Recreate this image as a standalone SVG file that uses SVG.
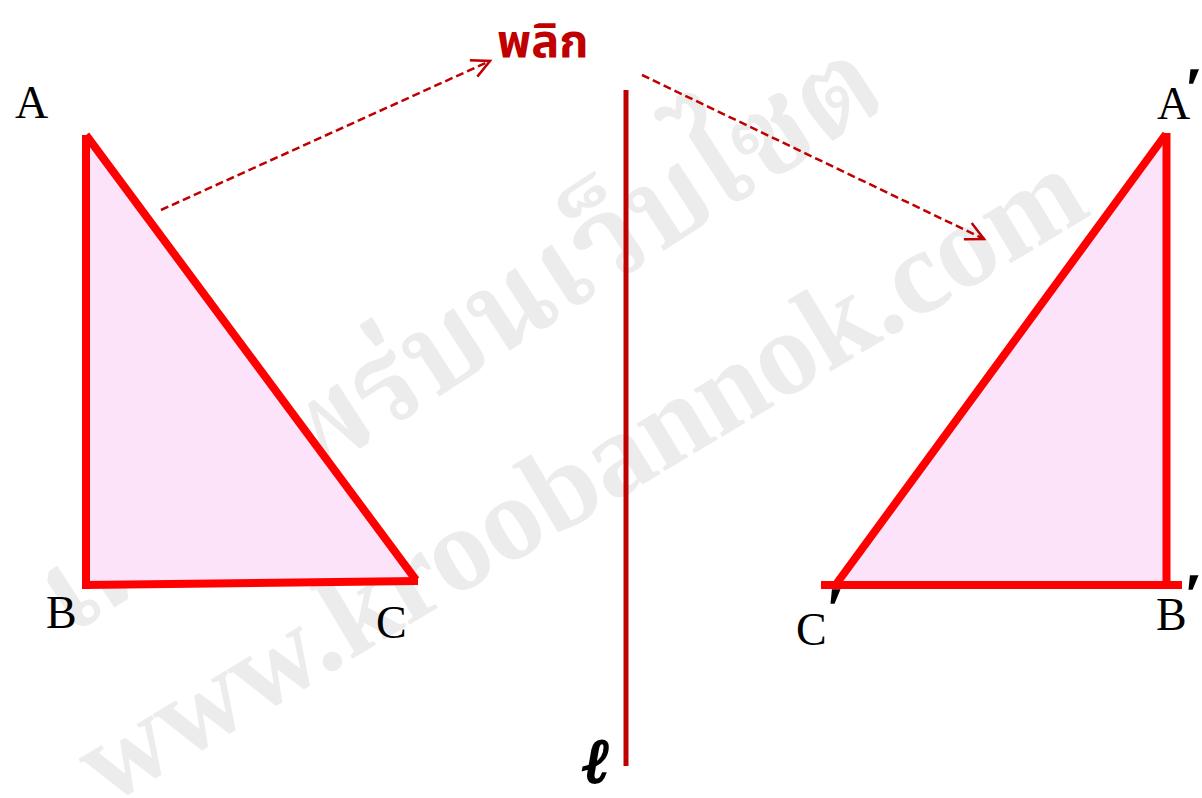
<svg xmlns="http://www.w3.org/2000/svg" width="1202" height="798" viewBox="0 0 1202 798">
<defs>
<style>
.wm{font-family:"Liberation Serif","Noto Serif Thai","Noto Sans Thai","DejaVu Serif",serif;font-weight:bold;fill:#ececec}
.tri{fill:#fde3f9;stroke:none}
.edge{stroke:#ff0000;stroke-width:8;fill:none}
.lbl{font-family:"Liberation Serif","Times New Roman",serif;font-size:46px;fill:#000}
.prime{font-weight:bold;font-size:54px;stroke:#000;stroke-width:1.5}
.dash{stroke:#c00000;stroke-width:2.5;stroke-dasharray:8 4;fill:none}
.ell{font-family:"DejaVu Serif",serif;font-weight:bold;font-style:italic;font-size:62px;fill:#000;stroke:#000;stroke-width:2.5}
.flip{font-family:"Noto Sans Thai","Noto Sans","DejaVu Sans",sans-serif;font-weight:bold;font-size:47px;fill:#c00000}
</style>
<marker id="arr" markerUnits="userSpaceOnUse" orient="auto" refX="0" refY="0" markerWidth="30" markerHeight="30" viewBox="-25 -15 30 30" overflow="visible">
<path d="M-18,-9 L0,0 L-18,9" fill="none" stroke="#c00000" stroke-width="2.5"/>
</marker>
</defs>
<rect width="1202" height="798" fill="#ffffff"/>
<g id="watermark">
<text class="wm" font-size="120" transform="translate(480,370) rotate(-33)" text-anchor="middle">เผยแพร่บนเว็บไซต</text>
<text class="wm" font-size="120" transform="translate(600,510) rotate(-31)" text-anchor="middle">www.kroobannok.com</text>
</g>
<g id="triangle-ABC">
<polygon class="tri" points="86,135 86,585 418,581"/>
<line class="edge" x1="86" y1="135" x2="86" y2="589"/>
<line class="edge" x1="84" y1="585" x2="418" y2="581"/>
<line class="edge" x1="86" y1="135" x2="416" y2="580"/>
<text class="lbl" x="15" y="118">A</text>
<text class="lbl" x="46" y="628">B</text>
<text class="lbl" x="376" y="638">C</text>
</g>
<g id="line-l">
<line x1="626" y1="90" x2="626" y2="766" stroke="#c00000" stroke-width="5"/>
<text class="ell" x="583" y="782">ℓ</text>
</g>
<g id="triangle-ABC-prime">
<polygon class="tri" points="1166,133 1166,585 837,585"/>
<line class="edge" x1="1166.5" y1="133" x2="1166.5" y2="585"/>
<line class="edge" x1="821" y1="585" x2="1182" y2="585"/>
<line class="edge" x1="1166" y1="134" x2="837" y2="583"/>
<text class="lbl" x="1157" y="119">A<tspan class="prime" dx="-4" dy="-13">′</tspan></text>
<text class="lbl" x="1156" y="630">B<tspan class="prime" dx="-1" dy="-18">′</tspan></text>
<text class="lbl" x="796" y="645">C<tspan class="prime" dx="1" dy="-19">′</tspan></text>
</g>
<g id="flip-label">
<text class="flip" x="497" y="57">พลิก</text>
</g>
<g id="connectors">
<line class="dash" x1="161" y1="210" x2="490" y2="61" marker-end="url(#arr)"/>
<line class="dash" x1="642" y1="75" x2="984" y2="239" marker-end="url(#arr)"/>
</g>
</svg>
